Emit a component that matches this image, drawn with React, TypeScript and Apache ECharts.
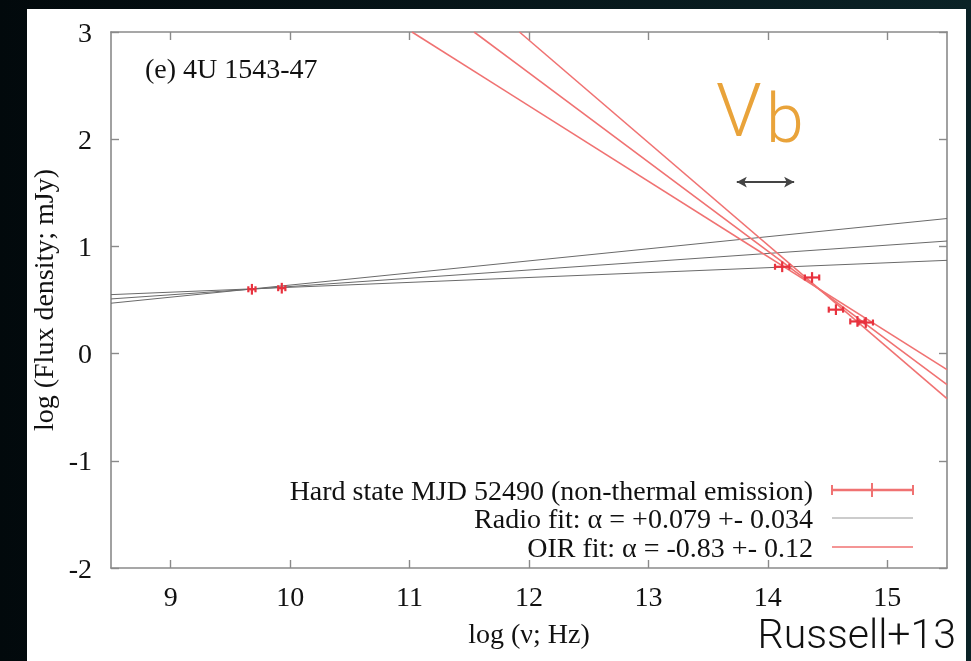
import React, { useEffect, useRef } from "react";
import * as echarts from "echarts";

// ---- data ----
const xTicks = [9, 10, 11, 12, 13, 14, 15];
const yTicks = [-2, -1, 0, 1, 2, 3];

// Hard state MJD 52490 data: [log nu, log flux, err nu, err flux]
const radioNu = [9.68, 9.93];
const radioFlux = [0.6, 0.61];
const radioErrNu = [0.03, 0.03];
const radioErrFlux = [0.05, 0.05];

const oirNu = [14.12, 14.37, 14.57, 14.75, 14.82];
const oirFlux = [0.81, 0.71, 0.41, 0.3, 0.29];
const oirErrNu = [0.06, 0.06, 0.06, 0.06, 0.06];
const oirErrFlux = [0.05, 0.05, 0.05, 0.05, 0.05];

// fit lines (end points)
const radioFitBest = [[8.5, 0.51], [15.5, 1.05]];
const radioFitSteep = [[8.5, 0.47], [15.5, 1.26]];
const radioFitShallow = [[8.5, 0.55], [15.5, 0.87]];
const oirFitBest = [[11.54, 3], [15.5, -0.29]];
const oirFitSteep = [[11.92, 3], [15.5, -0.42]];
const oirFitShallow = [[11.02, 3], [15.5, -0.15]];

// break frequency range arrow
const vbArrow = [[13.74, 1.6], [14.22, 1.6]];

const legendLabels = [
  "Hard state MJD 52490 (non-thermal emission)",
  "Radio fit: α = +0.079 +- 0.034",
  "OIR fit: α = -0.83 +- 0.12",
];
const panelTitle = "(e) 4U 1543-47";
const xName = "log (ν; Hz)";
const yName = "log (Flux density; mJy)";
const credit = "Russell+13";

const SERIF = "'Liberation Serif', 'Times New Roman', serif";
const SANS = "Roboto, 'Liberation Sans', sans-serif";
const TEXT = "#111111";
const AX = "#8a8a8a";
const RED_PT = "#e8323e";
const RED_LINE = "#f07272";
const GREY_LINE = "#6a6a6a";

function errData(nu: number[], f: number[], en: number[], ef: number[]) {
  return nu.map((v, i) => [v, f[i], en[i], ef[i]]);
}

function renderErr(params: any, api: any) {
  const x = api.value(0);
  const y = api.value(1);
  const dx = api.value(2);
  const dy = api.value(3);
  const c = api.coord([x, y]);
  const l = api.coord([x - dx, y]);
  const r = api.coord([x + dx, y]);
  const t = api.coord([x, y + dy]);
  const b = api.coord([x, y - dy]);
  const st = { stroke: RED_PT, lineWidth: 2.2 };
  return {
    type: "group",
    children: [
      { type: "line", shape: { x1: l[0], y1: c[1], x2: r[0], y2: c[1] }, style: st },
      { type: "line", shape: { x1: c[0], y1: t[1], x2: c[0], y2: b[1] }, style: st },
      { type: "line", shape: { x1: l[0], y1: c[1] - 3, x2: l[0], y2: c[1] + 3 }, style: st },
      { type: "line", shape: { x1: r[0], y1: c[1] - 3, x2: r[0], y2: c[1] + 3 }, style: st },
    ],
  };
}

function fitSeries(data: number[][], color: string, width: number) {
  return {
    type: "line",
    data,
    xAxisIndex: 0,
    yAxisIndex: 0,
    symbol: "none",
    silent: true,
    clip: true,
    lineStyle: { color, width },
    z: 3,
  };
}

export default function App() {
  const ref = useRef<HTMLDivElement>(null);
  useEffect(() => {
    if (!ref.current) return;
    const chart = echarts.init(ref.current, undefined, { renderer: "svg" });

    const axisLine = { show: true, onZero: false, lineStyle: { color: AX, width: 1.6 } };
    const axisTickIn = { show: true, inside: true, length: 8, lineStyle: { color: AX, width: 1.4 } };
    const labelStyle = { fontFamily: SERIF, fontSize: 28, color: TEXT };

    const legendX = 813;
    const legendY = [490, 518, 547];
    const sx0 = 832;
    const sx1 = 913;
    const sxm = 872;

    chart.setOption({
      animation: false,
      grid: { left: 111, right: 24, top: 32, bottom: 93, containLabel: false, outerBoundsMode: "none" },
      xAxis: [
        {
          type: "value",
          position: "bottom",
          min: 8.5,
          max: 15.5,
          axisLine,
          axisTick: { ...axisTickIn, customValues: xTicks },
          axisLabel: { ...labelStyle, margin: 14, customValues: xTicks },
          splitLine: { show: false },
          name: xName,
          nameLocation: "middle",
          nameGap: 51,
          nameTextStyle: { ...labelStyle },
        },
        {
          type: "value",
          position: "top",
          min: 8.5,
          max: 15.5,
          axisLine,
          axisTick: { ...axisTickIn, customValues: xTicks },
          axisLabel: { show: false },
          splitLine: { show: false },
        },
      ],
      yAxis: [
        {
          type: "value",
          position: "left",
          min: -2,
          max: 3,
          axisLine,
          axisTick: { ...axisTickIn, customValues: yTicks },
          axisLabel: { ...labelStyle, margin: 19, customValues: yTicks },
          splitLine: { show: false },
          name: yName,
          nameLocation: "middle",
          nameGap: 50,
          nameTextStyle: { ...labelStyle },
        },
        {
          type: "value",
          position: "right",
          min: -2,
          max: 3,
          axisLine,
          axisTick: { ...axisTickIn, customValues: yTicks },
          axisLabel: { show: false },
          splitLine: { show: false },
        },
      ],
      series: [
        fitSeries(radioFitBest, GREY_LINE, 1),
        fitSeries(radioFitSteep, GREY_LINE, 1),
        fitSeries(radioFitShallow, GREY_LINE, 1),
        fitSeries(oirFitBest, RED_LINE, 1.6),
        fitSeries(oirFitSteep, RED_LINE, 1.6),
        fitSeries(oirFitShallow, RED_LINE, 1.6),
        {
          type: "custom",
          xAxisIndex: 0,
          yAxisIndex: 0,
          renderItem: renderErr,
          data: errData(radioNu, radioFlux, radioErrNu, radioErrFlux),
          z: 5,
          silent: true,
        },
        {
          type: "custom",
          xAxisIndex: 0,
          yAxisIndex: 0,
          renderItem: renderErr,
          data: errData(oirNu, oirFlux, oirErrNu, oirErrFlux),
          z: 5,
          silent: true,
        },
        {
          type: "line",
          xAxisIndex: 0,
          yAxisIndex: 0,
          data: [],
          silent: true,
          markLine: {
            silent: true,
            symbol: ["arrow", "arrow"],
            symbolSize: [8, 10],
            label: { show: false },
            lineStyle: { color: "#444", width: 2, type: "solid" },
            data: [[{ coord: vbArrow[0] }, { coord: vbArrow[1] }]],
          },
        },
      ],
      graphic: [
        {
          type: "rect",
          z: -200,
          silent: true,
          shape: { x: 0, y: 0, width: 971, height: 661 },
          style: {
            fill: {
              type: "linear",
              x: 0,
              y: 0,
              x2: 1,
              y2: 0,
              colorStops: [
                { offset: 0, color: "#02090c" },
                { offset: 1, color: "#0b2226" },
              ],
            },
          },
        },
        {
          type: "rect",
          z: -100,
          silent: true,
          shape: { x: 27, y: 9, width: 939, height: 652 },
          style: { fill: "#ffffff" },
        },
        {
          type: "text",
          z: 100,
          x: 145,
          y: 68,
          style: { text: panelTitle, font: `28px ${SERIF}`, fill: TEXT, textAlign: "left", textVerticalAlign: "middle" },
        },
        {
          type: "text",
          z: 100,
          x: 716,
          y: 110,
          style: { text: "V", font: `300 74px ${SANS}`, fill: "#e9a33a", textAlign: "left", textVerticalAlign: "middle" },
        },
        {
          type: "text",
          z: 100,
          x: 766,
          y: 119,
          style: { text: "b", font: `300 68px ${SANS}`, fill: "#e9a33a", textAlign: "left", textVerticalAlign: "middle" },
        },
        {
          type: "text",
          z: 100,
          x: 956,
          y: 634,
          style: { text: credit, font: `300 41px ${SANS}`, fill: "#111", textAlign: "right", textVerticalAlign: "middle" },
        },
        ...legendLabels.map((t, i) => ({
          type: "text",
          z: 100,
          x: legendX,
          y: legendY[i],
          style: { text: t, font: `28px ${SERIF}`, fill: TEXT, textAlign: "right", textVerticalAlign: "middle" },
        })),
        { type: "line", z: 100, shape: { x1: sx0, y1: legendY[0], x2: sx1, y2: legendY[0] }, style: { stroke: RED_LINE, lineWidth: 2.4 } },
        { type: "line", z: 100, shape: { x1: sx0, y1: legendY[0] - 5, x2: sx0, y2: legendY[0] + 5 }, style: { stroke: RED_LINE, lineWidth: 2 } },
        { type: "line", z: 100, shape: { x1: sx1, y1: legendY[0] - 5, x2: sx1, y2: legendY[0] + 5 }, style: { stroke: RED_LINE, lineWidth: 2 } },
        { type: "line", z: 100, shape: { x1: sxm, y1: legendY[0] - 7, x2: sxm, y2: legendY[0] + 7 }, style: { stroke: RED_LINE, lineWidth: 2 } },
        { type: "line", z: 100, shape: { x1: sx0, y1: legendY[1], x2: sx1, y2: legendY[1] }, style: { stroke: "#9a9a9a", lineWidth: 1.2 } },
        { type: "line", z: 100, shape: { x1: sx0, y1: legendY[2], x2: sx1, y2: legendY[2] }, style: { stroke: RED_LINE, lineWidth: 1.6 } },
      ],
    });
    return () => chart.dispose();
  }, []);
  return <div ref={ref} style={{ position: "fixed", left: 0, top: 0, width: 971, height: 661 }} />;
}
